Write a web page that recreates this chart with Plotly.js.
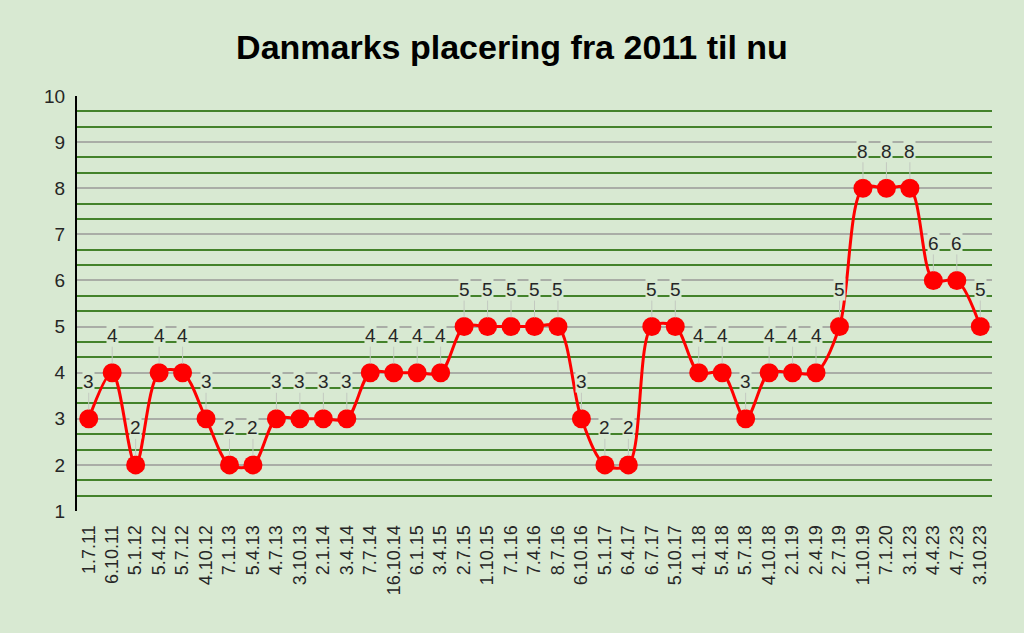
<!DOCTYPE html>
<html>
<head>
<meta charset="utf-8">
<script src="https://cdn.plot.ly/plotly-3.0.1.min.js"></script>
<style>
  html, body { margin: 0; padding: 0; background: #d8e9d2; }
  #chart { width: 1024px; height: 633px; }
</style>
</head>
<body>
<div id="chart"></div>
<script>
var datoer = ['1.7.11', '6.10.11', '5.1.12', '5.4.12', '5.7.12', '4.10.12', '7.1.13', '5.4.13',
    '4.7.13', '3.10.13', '2.1.14', '3.4.14', '7.7.14', '16.10.14', '6.1.15', '3.4.15',
    '2.7.15', '1.10.15', '7.1.16', '7.4.16', '8.7.16', '6.10.16', '5.1.17', '6.4.17',
    '6.7.17', '5.10.17', '4.1.18', '5.4.18', '5.7.18', '4.10.18', '2.1.19', '2.4.19',
    '2.7.19', '1.10.19', '7.1.20', '3.1.23', '4.4.23', '4.7.23', '3.10.23'];

var placering = [3, 4, 2, 4, 4, 3, 2, 2, 3, 3, 3, 3, 4, 4, 4, 4, 5, 5, 5, 5, 5, 3, 2, 2,
    5, 5, 4, 4, 3, 4, 4, 4, 5, 8, 8, 8, 6, 6, 5];

var yTicks = [1, 2, 3, 4, 5, 6, 7, 8, 9, 10];

var bg = '#d8e9d2';
var font = 'Liberation Sans, Arial, sans-serif';

var trace = {
    x: datoer,
    y: placering,
    type: 'scatter',
    mode: 'lines+markers',
    line: { color: '#ff0000', width: 3, shape: 'spline', smoothing: 0.9 },
    marker: { color: '#ff0000', size: 19 },
    hoverinfo: 'x+y'
};

// datalabels med streg ned til punktet
var labels = datoer.map(function (d, i) {
    return {
        x: d,
        y: placering[i],
        xref: 'x',
        yref: 'y',
        text: String(placering[i]),
        showarrow: true,
        arrowhead: 0,
        arrowwidth: 1,
        arrowcolor: '#c3c9c0',
        ax: 0,
        ay: -37,
        standoff: 9,
        bgcolor: bg,
        borderpad: 0,
        font: { family: font, size: 19, color: '#262626' }
    };
});

var layout = {
    width: 1024,
    height: 633,
    paper_bgcolor: bg,
    plot_bgcolor: bg,
    margin: { l: 77, r: 32, t: 96, b: 122 },
    showlegend: false,
    title: {
        text: '<b>Danmarks placering fra 2011 til nu</b>',
        font: { family: font, size: 34, color: '#000000' },
        x: 0.5,
        xanchor: 'center',
        y: 0.925,
        yanchor: 'middle'
    },
    xaxis: {
        type: 'category',
        range: [-0.5, datoer.length - 0.5],
        tickangle: -90,
        tickfont: { family: font, size: 18, color: '#262626' },
        showgrid: false,
        showline: false,
        ticks: 'outside',
        ticklen: 6,
        tickcolor: bg,
        zeroline: false
    },
    yaxis: {
        range: [1, 10],
        tickvals: yTicks,
        ticktext: yTicks.map(String),
        tickfont: { family: font, size: 19, color: '#262626' },
        showgrid: true,
        gridcolor: '#a9ada6',
        gridwidth: 2,
        showline: true,
        linecolor: '#000000',
        linewidth: 2,
        ticks: 'outside',
        ticklen: 6,
        tickcolor: bg,
        zeroline: false,
        minor: {
            dtick: 1 / 3,
            tick0: 1,
            showgrid: true,
            gridcolor: '#43822a',
            gridwidth: 2,
            ticks: ''
        }
    },
    annotations: labels
};

Plotly.newPlot('chart', [trace], layout, { displayModeBar: false, staticPlot: true });
</script>
</body>
</html>
